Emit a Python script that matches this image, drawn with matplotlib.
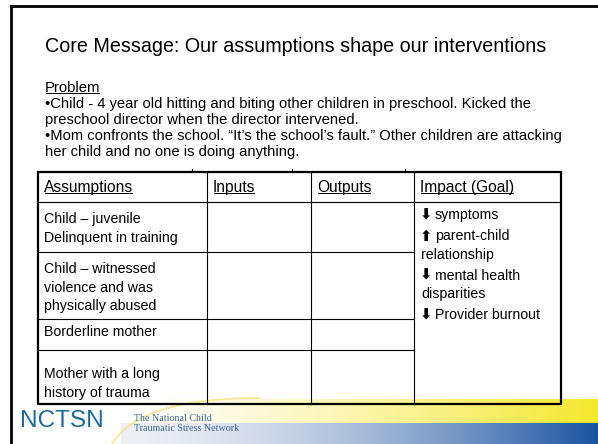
import numpy as np
import matplotlib
matplotlib.use("Agg")
import matplotlib.pyplot as plt

title = "Core Message: Our assumptions shape our interventions"
problem_heading = "Problem"
problem_lines = [
    "\u2022Child - 4 year old hitting and biting other children in preschool. Kicked the",
    "preschool director when the director intervened.",
    "\u2022Mom confronts the school. \u201cIt\u2019s the school\u2019s fault.\u201d Other children are attacking",
    "her child and no one is doing anything.",
]
columns = ["Assumptions", "Inputs", "Outputs", "Impact (Goal)"]
assumptions = [
    ["Child \u2013 juvenile", "Delinquent in training"],
    ["Child \u2013 witnessed", "violence and was", "physically abused"],
    ["Borderline mother"],
    ["Mother with a long", "history of trauma"],
]
impacts = [
    ("\u2b07", ["symptoms"]),
    ("\u2b06", ["parent-child", "relationship"]),
    ("\u2b07", ["mental health", "disparities"]),
    ("\u2b07", ["Provider burnout"]),
]
logo = "NCTSN"
logo_sub = ["The National Child", "Traumatic Stress Network"]

# layout in pixels
W, H = 598, 444
col_x = [38, 207, 311, 414, 561]
row_y = [172, 202, 252, 319, 350, 404]

fig = plt.figure(figsize=(W / 100, H / 100), dpi=100)
ax = fig.add_axes([0, 0, 1, 1])
ax.set_xlim(0, W)
ax.set_ylim(H, 0)
ax.axis('off')

body = ['Liberation Sans', 'DejaVu Sans']

# footer gradient bands
x = np.linspace(0, W, 600)
t = np.clip((x - 120) / (W - 120), 0, 1)
yel = np.array([0.96, 0.91, 0.18])
ty = t ** 1.3
band_y = np.ones((1, len(x), 3)) * (1 - ty[None, :, None]) + yel * ty[None, :, None]
ax.imshow(band_y, extent=[0, W, 423, 399], aspect='auto', zorder=0)
blu = np.array([0.10, 0.33, 0.63])
tb = t ** 1.6
start = np.array([0.93, 0.94, 0.96])
band_b = start * (1 - tb[None, :, None]) + blu * tb[None, :, None]
band_b[:, x < 120] = 1.0
ax.imshow(band_b, extent=[0, W, H, 423], aspect='auto', zorder=0)

# yellow swoosh
s = np.linspace(0, 1, 50)
sx = (1 - s) ** 2 * 112 + 2 * (1 - s) * s * 140 + s ** 2 * 260
sy = (1 - s) ** 2 * 444 + 2 * (1 - s) * s * 398 + s ** 2 * 398
ax.plot(sx, sy, color='#f3e27a', lw=1.2, alpha=0.8, zorder=1)

# slide border
ax.plot([11, 11], [H, 6], color='black', lw=2, solid_capstyle='projecting', zorder=3)
ax.plot([11, W], [6, 6], color='black', lw=2, solid_capstyle='projecting', zorder=3)

fig.canvas.draw()
renderer = fig.canvas.get_renderer()


def underline(txt, lw=0.7):
    bb = txt.get_window_extent(renderer=renderer).transformed(ax.transData.inverted())
    yb = max(bb.y0, bb.y1) - 1.5
    ax.plot([bb.x0 + 0.5, bb.x1 - 1.5], [yb, yb], color='black', lw=lw, zorder=4)


ax.text(45, 47, title, fontsize=14.2, family=body, va='center', ha='left')

t0 = ax.text(45, 88, problem_heading, fontsize=10.7, family=body, va='center')
underline(t0)
for i, line in enumerate(problem_lines):
    ax.text(45, 104 + i * 16, line, fontsize=10.6, family=body, va='center')

# table lines
ax.plot([col_x[0], col_x[-1], col_x[-1], col_x[0], col_x[0]],
        [row_y[0], row_y[0], row_y[-1], row_y[-1], row_y[0]],
        color='black', lw=1.6, zorder=3)
for cx in col_x[1:-1]:
    ax.plot([cx, cx], [row_y[0], row_y[-1]], color='black', lw=0.8, zorder=3)
ax.plot([col_x[0], col_x[-1]], [row_y[1], row_y[1]], color='black', lw=0.8, zorder=3)
for ry in row_y[2:-1]:
    ax.plot([col_x[0], col_x[3]], [ry, ry], color='black', lw=0.8, zorder=3)
for tx in [192, 292, 405]:
    ax.plot([tx, tx], [169, 172], color='black', lw=0.8, zorder=3)

for i, c in enumerate(columns):
    tc = ax.text(col_x[i] + 6, 187, c, fontsize=11.2, family=body, va='center')
    underline(tc)

cell_top = [219, 269, 332, 374]
for r, lines in enumerate(assumptions):
    for j, line in enumerate(lines):
        ax.text(col_x[0] + 6, cell_top[r] + j * 18.5, line, fontsize=10.2,
                family=body, va='center')

iy = 215
for arrow, lines in impacts:
    ax.text(col_x[3] + 6, iy, arrow, fontsize=10.5, family=['DejaVu Sans'],
            fontweight='bold', va='center')
    ax.text(col_x[3] + 21, iy, lines[0], fontsize=10.2, family=body, va='center')
    for extra in lines[1:]:
        iy += 18.5
        ax.text(col_x[3] + 7, iy, extra, fontsize=10.2, family=body, va='center')
    iy += 21

# footer logo
ax.text(20, 421, logo, fontsize=17.6, family=body, color='#1f6a9c',
        va='center', ha='left')
for i, line in enumerate(logo_sub):
    ax.text(134, 418 + i * 10.5, line, fontsize=7.2, family=['Liberation Serif'],
            color='#3d6a94', va='center')

fig.savefig('out.png', dpi=100)
